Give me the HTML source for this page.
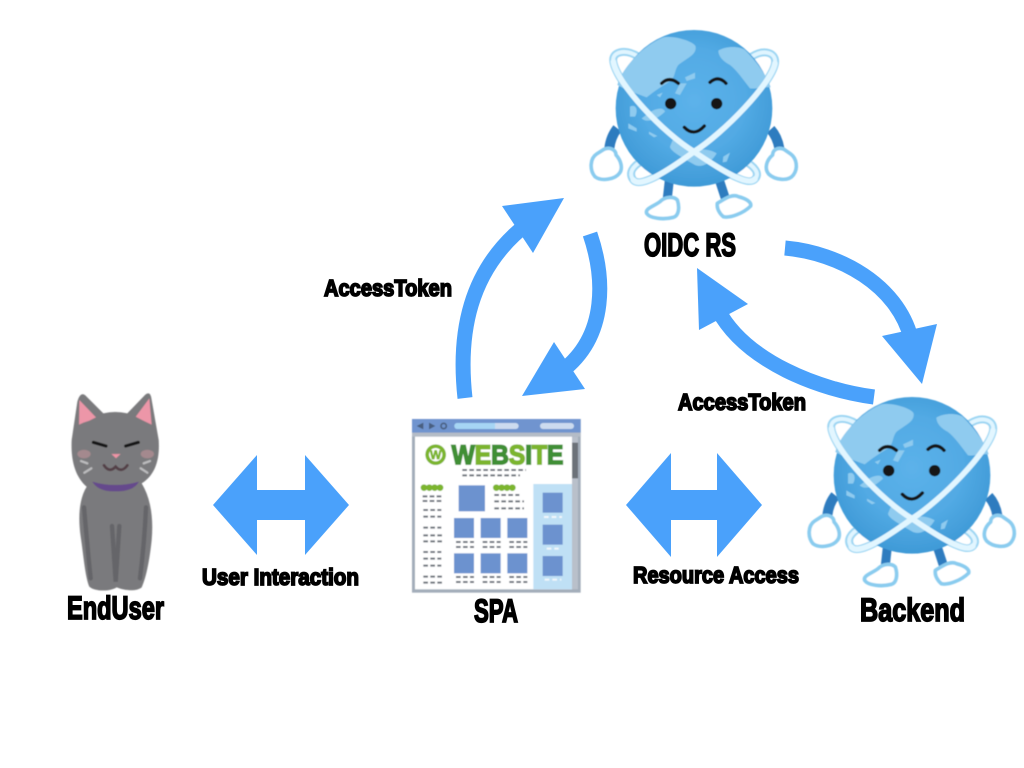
<!DOCTYPE html>
<html><head><meta charset="utf-8"><title>SPA Backend</title>
<style>html,body{margin:0;padding:0;background:#fff}svg{display:block}
.l{font-family:"Liberation Sans",sans-serif;font-weight:bold;fill:#000;stroke:#000;stroke-width:1.7;paint-order:stroke}
</style></head><body>
<svg width="1024" height="768" viewBox="0 0 1024 768" xmlns="http://www.w3.org/2000/svg">
<defs>
<filter id="b" x="-5%" y="-5%" width="110%" height="110%"><feGaussianBlur stdDeviation="0.4"/></filter>
<radialGradient id="g" cx="50%" cy="45%" r="55%"><stop offset="0" stop-color="#5cb2ea"/><stop offset=".6" stop-color="#52aae4"/><stop offset="1" stop-color="#3f9ad7"/></radialGradient>
<g id="globe">
 <g stroke="#2f7cbf" stroke-width="30" fill="none"><path d="M112,385 Q92,410 88,445"/><path d="M572,388 Q592,410 598,445"/></g>
 <g stroke="#2f7cbf" stroke-width="27" fill="none"><path d="M268,540 L262,595"/><path d="M418,540 L436,595"/></g>
 <g fill="#fff" stroke="#8accef" stroke-width="11" stroke-linejoin="round">
  <path d="M72,448 C90,440 108,450 108,465 C122,480 130,505 118,520 C105,538 65,545 45,530 C28,510 30,475 50,462 Z"/>
  <path d="M612,448 C594,440 578,450 578,465 C560,480 552,505 566,522 C585,540 625,545 640,525 C655,505 650,475 632,462 Z"/>
  <path d="M240,605 C255,590 280,588 292,600 C300,625 295,648 280,652 C250,660 210,655 200,640 C195,625 220,620 240,605 Z"/>
  <path d="M412,610 C430,600 455,580 475,590 C495,595 515,605 512,618 C490,640 450,655 430,650 C418,640 410,625 412,610 Z"/>
 </g>
 <g fill="#fff" stroke="#9dd6f3" stroke-width="24" stroke-linejoin="round">
  <path d="M100,185 C95,155 135,145 175,170 L490,480 C525,500 540,520 525,537 C505,560 430,515 342,455 C250,400 110,250 100,185 Z"/>
  <path d="M585,190 C590,160 555,145 515,170 L190,480 C155,500 145,520 160,540 C180,565 260,515 342,455 C430,400 575,250 585,190 Z"/>
 </g>
 <g fill="none" stroke="#e0f5ff" stroke-width="12" stroke-linejoin="round">
  <path d="M100,185 C95,155 135,145 175,170 L490,480 C525,500 540,520 525,537 C505,560 430,515 342,455 C250,400 110,250 100,185 Z"/>
  <path d="M585,190 C590,160 555,145 515,170 L190,480 C155,500 145,520 160,540 C180,565 260,515 342,455 C430,400 575,250 585,190 Z"/>
 </g>
 <circle cx="342" cy="325" r="235" fill="url(#g)"/>
 <g fill="#8fcbef">
  <path d="M250,112 C280,105 345,125 347,140 C350,165 320,175 295,195 C280,215 290,235 260,250 C235,265 215,280 200,292 L140,270 L112,255 C125,205 190,135 250,112 Z"/>
  <path d="M415,152 C440,135 485,140 495,150 C535,190 565,235 572,262 C555,260 525,268 510,265 C490,240 470,210 450,195 C430,185 415,170 415,152 Z"/>
  <path d="M278,420 C295,425 310,450 340,450 C370,445 395,450 410,460 C395,485 370,505 345,495 C320,480 270,455 270,440 Z"/>
  <path d="M315,232 L345,218 L345,235 L320,243 Z M205,340 C225,325 250,320 255,335 C230,360 200,370 185,355 Z M150,320 C170,310 175,335 165,350 L150,350 Z M145,370 L170,385 L170,395 L145,385 Z M207,395 L232,408 L222,412 L207,402 Z M430,470 L450,458 L440,485 L428,487 Z M300,250 L320,250 L300,285 L285,280 Z M230,285 L248,278 L240,292 Z"/>
 </g>
 <path d="M100,185 C110,250 250,400 342,455 C430,515 505,560 525,537" fill="none" stroke="#e2f6ff" stroke-width="17" stroke-linecap="round"/>
 <path d="M585,190 C575,250 430,400 342,455 C260,515 180,565 160,540" fill="none" stroke="#e2f6ff" stroke-width="17" stroke-linecap="round"/>
 <g fill="none" stroke="#141418" stroke-width="10" stroke-linecap="round"><path d="M245,250 Q268,228 295,250"/><path d="M390,247 Q415,225 438,250"/><path d="M313,382 Q342,412 373,378"/></g>
 <circle cx="272" cy="311" r="17" fill="#141418"/><circle cx="410" cy="311" r="17" fill="#141418"/>
</g>
</defs>

<!-- arrows -->
<g fill="none" stroke="#4aa1fb" stroke-width="15">
<path d="M465,398 C458,335 468,270 527,224"/>
<path d="M590,234 C604,275 609,335 562,371"/>
<path d="M785,248 C840,253 897,285 911,338"/>
<path d="M874,397 C820,390 746,362 718,310"/>
</g>
<g fill="#4aa1fb">
<path d="M502,206 L564,198 L533,253 Z"/>
<path d="M554,342 L585,389 L522,396 Z"/>
<path d="M937,324 L922,384 L882,336 Z"/>
<path d="M697,268 L748,304 L699,330 Z"/>
<path d="M213,505 L257,455 L257,490 L305,490 L305,455 L349,505 L305,555 L305,520 L257,520 L257,555 Z"/>
<path d="M626,505 L671,453 L671,490 L717,490 L717,453 L762,505 L717,557 L717,520 L671,520 L671,557 Z"/>
</g>

<g filter="url(#b)">
<use href="#globe" transform="translate(580,0) scale(.33333)"/>
<use href="#globe" transform="translate(798,367) scale(.33333)"/>

<!-- website -->
<g transform="translate(400,410) scale(.33333)">
 <rect x="36" y="27" width="506" height="521" fill="#a3adba"/>
 <rect x="36" y="27" width="506" height="41" fill="#6f94cf"/>
 <rect x="36" y="68" width="506" height="12" fill="#b4bcc7"/>
 <rect x="45" y="80" width="471" height="458" fill="#fff"/>
 <rect x="516" y="80" width="18" height="458" fill="#b9c0ca"/>
 <rect x="516" y="98" width="18" height="107" fill="#6c7279"/>
 <path d="M50,48 L70,38 V58 Z M106,48 L87,38 V58 Z" fill="#4a5f80"/>
 <circle cx="131" cy="48" r="8" fill="none" stroke="#4a5f80" stroke-width="5"/>
 <rect x="163" y="39" width="193" height="18" rx="9" fill="#ccdbef"/>
 <path d="M172,39 H285 V57 H172 A9,9 0 0 1 172,39 Z" fill="#a6d5f4"/>
 <rect x="420" y="39" width="102" height="18" rx="9" fill="#ccdbef"/>
 <rect x="400" y="222" width="116" height="316" fill="#bfe0f5"/>
 <circle cx="107" cy="134" r="31" fill="#7cb52f"/><circle cx="107" cy="134" r="20" fill="#fff"/>
 <text x="107" y="147" text-anchor="middle" font-family="Liberation Sans" font-weight="bold" font-size="36" fill="#7cb52f" stroke="#7cb52f" stroke-width="2">W</text>
 <text x="155" y="162" textLength="335" lengthAdjust="spacingAndGlyphs" font-family="Liberation Sans" font-weight="bold" font-size="80" stroke-width="5"><tspan fill="#3f8f35" stroke="#3f8f35">W</tspan><tspan fill="#7cb52f" stroke="#7cb52f">E</tspan><tspan fill="#3f8f35" stroke="#3f8f35">B</tspan><tspan fill="#7cb52f" stroke="#7cb52f">S</tspan><tspan fill="#3f8f35" stroke="#3f8f35">I</tspan><tspan fill="#7cb52f" stroke="#7cb52f">T</tspan><tspan fill="#3f8f35" stroke="#3f8f35">E</tspan></text>
 <g fill="#6c92cf">
  <rect x="176" y="226" width="79" height="78"/>
  <rect x="162" y="324" width="60" height="60"/><rect x="242" y="324" width="60" height="60"/><rect x="322" y="324" width="60" height="60"/>
  <rect x="162" y="430" width="60" height="60"/><rect x="242" y="430" width="60" height="60"/><rect x="322" y="430" width="60" height="60"/>
  <rect x="428" y="248" width="60" height="60"/><rect x="428" y="344" width="60" height="60"/><rect x="428" y="438" width="60" height="60"/>
 </g>
 <g fill="#7cb52f"><circle cx="72" cy="233" r="10"/><circle cx="88" cy="233" r="10"/><circle cx="104" cy="233" r="10"/><circle cx="120" cy="233" r="10"/><circle cx="289" cy="233" r="10"/><circle cx="305" cy="233" r="10"/><circle cx="321" cy="233" r="10"/><circle cx="337" cy="233" r="10"/></g>
 <g stroke="#6d737c" stroke-width="6" stroke-dasharray="14 7" fill="none">
  <path d="M187,180 H378 M187,196 H360"/>
  <path d="M68,259 H130 M68,273 H130 M70,300 H124 M70,320 H124 M70,353 H124 M70,376 H128 M70,394 H130 M70,426 H124 M70,446 H124 M70,467 H124 M70,500 H128 M70,518 H128"/>
  <path d="M283,255 H358 M283,274 H372 M283,295 H372"/>
  <path d="M168,396 H222 M168,411 H222 M248,396 H302 M248,411 H302 M328,396 H382 M328,411 H382 M168,501 H222 M168,516 H222 M248,501 H302 M248,516 H302 M328,501 H382 M328,516 H382"/>
 </g>
 <g stroke="#f2f7fb" stroke-width="6" stroke-dasharray="14 9" fill="none"><path d="M432,321 H486 M440,416 H476 M434,509 H484"/></g>
</g>

<!-- cat -->
<g transform="translate(50,380) scale(.33333)">
 <path d="M118,620 C105,590 100,520 92,470 C85,420 85,360 110,320 C75,290 62,240 65,180 L82,65 Q92,30 110,50 L160,100 Q195,92 232,100 L285,45 Q302,30 305,60 L326,180 C330,240 315,285 275,310 C305,360 310,420 305,480 C300,530 290,590 275,622 C260,635 225,632 200,622 C180,635 135,635 118,620 Z" fill="#7a7a7d"/>
 <path d="M88,60 L138,112 L118,122 L100,128 L87,134 Z M298,55 L257,110 L280,122 L305,134 Z" fill="#ec96a8"/>
 <g fill="#e4a0a8" opacity=".4"><ellipse cx="102" cy="222" rx="20" ry="13"/><ellipse cx="292" cy="222" rx="20" ry="13"/></g>
 <path d="M184,222 L212,222 L198,235 Z" fill="#ef94a6"/>
 <g fill="none" stroke="#141416" stroke-width="9" stroke-linecap="round"><path d="M130,187 L168,198"/><path d="M265,187 L227,198"/></g>
 <path d="M162,256 Q178,280 197,260 Q215,280 232,256" fill="none" stroke="#533f46" stroke-width="8" stroke-linecap="round"/>
 <g stroke="#bcbcbe" stroke-width="7" stroke-linecap="round"><path d="M93,243 L112,250"/><path d="M103,278 L124,265"/><path d="M300,243 L281,250"/><path d="M292,278 L272,265"/></g>
 <path d="M127,305 Q195,325 267,305 Q250,335 195,334 Q145,335 127,305 Z" fill="#65498c"/>
 <g fill="none" stroke="#656569" stroke-width="13" stroke-linecap="round"><path d="M102,382 C108,450 115,530 122,595"/><path d="M288,382 C285,450 278,530 270,595"/><path d="M186,438 L197,605 L208,438"/></g>
</g>
</g>

<!-- labels -->
<text class="l" x="644" y="256" font-size="32" textLength="92" lengthAdjust="spacingAndGlyphs">OIDC RS</text>
<text class="l" x="67" y="619" font-size="32" textLength="97" lengthAdjust="spacingAndGlyphs">EndUser</text>
<text class="l" x="474" y="622" font-size="32" textLength="44" lengthAdjust="spacingAndGlyphs">SPA</text>
<text class="l" x="860" y="621" font-size="32" textLength="105" lengthAdjust="spacingAndGlyphs">Backend</text>
<text class="l" x="324" y="296" font-size="23" textLength="128" lengthAdjust="spacingAndGlyphs">AccessToken</text>
<text class="l" x="678" y="410" font-size="23" textLength="128" lengthAdjust="spacingAndGlyphs">AccessToken</text>
<text class="l" x="202" y="585" font-size="23" textLength="157" lengthAdjust="spacingAndGlyphs">User Interaction</text>
<text class="l" x="633" y="583" font-size="23" textLength="166" lengthAdjust="spacingAndGlyphs">Resource Access</text>
</svg>
</body></html>
